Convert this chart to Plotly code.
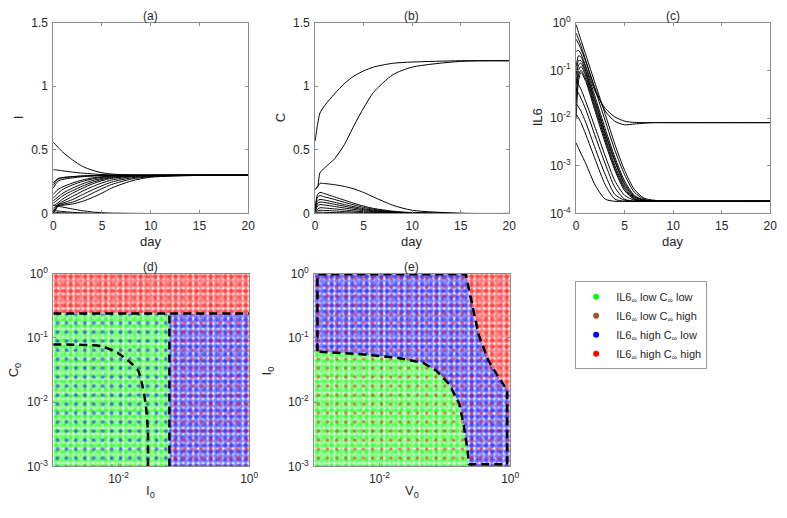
import plotly.graph_objects as go

# ---------------- data: panels (a)-(c) ----------------
t_days = [0, 0.25, 0.5, 1, 2, 3, 4, 5, 6, 8, 10, 15, 20]

I_curves = [
    [0.56, 0.54, 0.52, 0.48, 0.42, 0.37, 0.34, 0.32, 0.31, 0.302, 0.30, 0.30, 0.30],
    [0.345, 0.343, 0.34, 0.335, 0.325, 0.317, 0.311, 0.306, 0.303, 0.301, 0.30, 0.30, 0.30],
    [0.24, 0.26, 0.275, 0.283, 0.29, 0.295, 0.298, 0.299, 0.30, 0.30, 0.30, 0.30, 0.30],
    [0.22, 0.25, 0.27, 0.28, 0.289, 0.294, 0.297, 0.299, 0.30, 0.30, 0.30, 0.30, 0.30],
    [0.20, 0.23, 0.255, 0.268, 0.28, 0.289, 0.294, 0.297, 0.299, 0.30, 0.30, 0.30, 0.30],
    [0.15, 0.17, 0.19, 0.21, 0.24, 0.263, 0.279, 0.289, 0.295, 0.299, 0.30, 0.30, 0.30],
    [0.12, 0.14, 0.16, 0.19, 0.225, 0.252, 0.271, 0.284, 0.292, 0.298, 0.30, 0.30, 0.30],
    [0.10, 0.115, 0.13, 0.16, 0.20, 0.233, 0.258, 0.276, 0.288, 0.297, 0.30, 0.30, 0.30],
    [0.08, 0.095, 0.11, 0.14, 0.18, 0.215, 0.245, 0.267, 0.282, 0.295, 0.299, 0.30, 0.30],
    [0.06, 0.072, 0.085, 0.115, 0.16, 0.198, 0.232, 0.258, 0.276, 0.293, 0.298, 0.30, 0.30],
    [0.04, 0.055, 0.072, 0.095, 0.135, 0.175, 0.21, 0.24, 0.263, 0.288, 0.297, 0.30, 0.30],
    [0.02, 0.045, 0.068, 0.082, 0.11, 0.148, 0.185, 0.218, 0.247, 0.28, 0.294, 0.30, 0.30],
    [0.01, 0.035, 0.062, 0.072, 0.09, 0.12, 0.158, 0.195, 0.228, 0.27, 0.29, 0.30, 0.30],
    [0.005, 0.03, 0.058, 0.065, 0.075, 0.095, 0.125, 0.16, 0.20, 0.255, 0.285, 0.299, 0.30],
    [0.065, 0.062, 0.058, 0.05, 0.035, 0.022, 0.012, 0.006, 0.003, 0.001, 0, 0, 0],
    [0.025, 0.022, 0.019, 0.015, 0.009, 0.005, 0.002, 0.001, 0, 0, 0, 0, 0],
    [0.01, 0.009, 0.007, 0.005, 0.002, 0.001, 0, 0, 0, 0, 0, 0, 0],
]

C_curves = [
    [0.57, 0.70, 0.79, 0.85, 0.94, 1.02, 1.08, 1.12, 1.15, 1.18, 1.19, 1.20, 1.20],
    [0.19, 0.21, 0.32, 0.36, 0.43, 0.54, 0.69, 0.83, 0.95, 1.09, 1.15, 1.195, 1.20],
    [0.19, 0.21, 0.237, 0.235, 0.226, 0.213, 0.193, 0.165, 0.13, 0.065, 0.025, 0.002, 0],
    [0.05, 0.15, 0.165, 0.155, 0.13, 0.105, 0.08, 0.058, 0.04, 0.018, 0.007, 0, 0],
    [0.04, 0.13, 0.14, 0.13, 0.11, 0.088, 0.067, 0.048, 0.033, 0.014, 0.005, 0, 0],
    [0.03, 0.10, 0.11, 0.105, 0.088, 0.07, 0.053, 0.038, 0.026, 0.011, 0.004, 0, 0],
    [0.02, 0.08, 0.09, 0.086, 0.072, 0.057, 0.043, 0.03, 0.02, 0.008, 0.003, 0, 0],
    [0.015, 0.06, 0.07, 0.066, 0.055, 0.043, 0.032, 0.022, 0.015, 0.006, 0.002, 0, 0],
    [0.01, 0.035, 0.045, 0.043, 0.036, 0.028, 0.02, 0.014, 0.009, 0.003, 0.001, 0, 0],
    [0.005, 0.02, 0.025, 0.024, 0.02, 0.015, 0.011, 0.007, 0.004, 0.001, 0, 0, 0],
    [0.002, 0.008, 0.01, 0.009, 0.007, 0.005, 0.003, 0.002, 0.001, 0, 0, 0, 0],
]

t_il6 = [0, 0.25, 0.5, 1, 2, 3, 4, 5, 6, 7, 8, 10, 20]
IL6_curves = [
    [0.9, 0.62, 0.43, 0.21, 0.05, 0.012, 0.0028, 0.0008, 0.00032, 0.00021, 0.00019, 0.00018, 0.00018],
    [0.6, 0.45, 0.33, 0.16, 0.037, 0.0088, 0.0021, 0.00065, 0.00028, 0.0002, 0.00018, 0.00018, 0.00018],
    [0.45, 0.36, 0.28, 0.15, 0.04, 0.014, 0.0085, 0.0072, 0.0075, 0.0078, 0.008, 0.008, 0.008],
    [0.25, 0.26, 0.22, 0.12, 0.035, 0.016, 0.0105, 0.0086, 0.0081, 0.008, 0.008, 0.008, 0.008],
    [0.12, 0.20, 0.19, 0.11, 0.026, 0.006, 0.0015, 0.00048, 0.00024, 0.00019, 0.00018, 0.00018, 0.00018],
    [0.08, 0.16, 0.16, 0.095, 0.022, 0.005, 0.0013, 0.00043, 0.00023, 0.00019, 0.00018, 0.00018, 0.00018],
    [0.05, 0.13, 0.14, 0.085, 0.02, 0.0046, 0.0012, 0.0004, 0.00022, 0.00019, 0.00018, 0.00018, 0.00018],
    [0.03, 0.10, 0.12, 0.075, 0.017, 0.004, 0.001, 0.00036, 0.00021, 0.00018, 0.00018, 0.00018, 0.00018],
    [0.02, 0.08, 0.10, 0.065, 0.015, 0.0035, 0.00088, 0.00033, 0.0002, 0.00018, 0.00018, 0.00018, 0.00018],
    [0.01, 0.06, 0.09, 0.058, 0.013, 0.003, 0.0008, 0.0003, 0.0002, 0.00018, 0.00018, 0.00018, 0.00018],
    [0.06, 0.05, 0.04, 0.022, 0.006, 0.0016, 0.00048, 0.00024, 0.00019, 0.00018, 0.00018, 0.00018, 0.00018],
    [0.04, 0.033, 0.026, 0.015, 0.004, 0.0011, 0.00035, 0.0002, 0.00018, 0.00018, 0.00018, 0.00018, 0.00018],
    [0.02, 0.017, 0.014, 0.008, 0.0022, 0.00065, 0.00025, 0.00019, 0.00018, 0.00018, 0.00018, 0.00018, 0.00018],
    [0.012, 0.01, 0.008, 0.0045, 0.0013, 0.0004, 0.0002, 0.00018, 0.00018, 0.00018, 0.00018, 0.00018, 0.00018],
    [0.003, 0.0023, 0.0018, 0.0011, 0.00038, 0.0002, 0.00018, 0.00018, 0.00018, 0.00018, 0.00018, 0.00018, 0.00018],
]

# ---------------- data: panels (d)-(e) region boundaries ----------------
axis_lo, axis_hi = 0.001, 1.0

d_C0_split = 0.24      # C0 above which everything ends high/high
d_I0_split = 0.060     # I0 vertical boundary
d_inner_I0 = [0.001, 0.0055, 0.0099, 0.0155, 0.020, 0.0234, 0.0263, 0.0282, 0.0282]
d_inner_C0 = [0.079, 0.074, 0.0575, 0.0407, 0.0309, 0.0174, 0.0085, 0.0034, 0.001]

e_green_V0 = [0.001, 0.0046, 0.0186, 0.0468, 0.074, 0.117, 0.166, 0.195, 0.224, 0.234]
e_green_I0 = [0.0617, 0.0562, 0.049, 0.0407, 0.0309, 0.019, 0.0095, 0.0043, 0.0017, 0.001]
e_red_V0 = [0.209, 0.251, 0.331, 0.468, 0.661, 0.90]
e_red_I0 = [1.0, 0.389, 0.110, 0.0437, 0.0245, 0.0155]
e_right_V0 = 0.90

legend_names = ["IL6<sub>∞</sub> low C<sub>∞</sub> low",
                "IL6<sub>∞</sub> low C<sub>∞</sub> high",
                "IL6<sub>∞</sub> high C<sub>∞</sub> low",
                "IL6<sub>∞</sub> high C<sub>∞</sub> high"]
legend_colors = ["#00ff00", "#a0522d", "#0000ff", "#ff0000"]
GREEN, BROWN, BLUE, RED = legend_colors

# ---------------- figure ----------------
W, H = 787, 518
fig = go.Figure()

def px_x(p):
    return p / W

def px_y(p):
    return 1 - p / H

FONT = "Liberation Sans, Arial, sans-serif"
AX = "#8c8c8c"

def axis_common():
    return dict(showline=True, linecolor=AX, linewidth=1, mirror="ticks",
                ticks="inside", ticklen=3, tickcolor=AX, showgrid=False,
                zeroline=False, tickfont=dict(family=FONT, size=12, color="#262626"))

panels = {
    "a": ((51, 249), (14, 211)),
    "b": ((317, 514), (14, 211)),
    "c": ((582, 779), (14, 211)),
    "d": ((51, 250), (273, 472)),
    "e": ((316, 515), (273, 472)),
}
keys = ["a", "b", "c", "d", "e"]
layout_axes = {}
for i, k in enumerate(keys):
    (x0, x1), (y0, y1) = panels[k]
    n = "" if i == 0 else str(i + 1)
    xa = axis_common()
    ya = axis_common()
    xa.update(domain=[px_x(x0), px_x(x1)], anchor="y" + n, ticklabelstandoff=1)
    ya.update(domain=[px_y(y1), px_y(y0)], anchor="x" + n, ticklabelstandoff=2)
    layout_axes["xaxis" + n] = xa
    layout_axes["yaxis" + n] = ya

lin_x = dict(range=[0, 20], tickvals=[0, 5, 10, 15, 20])
for n in ["", "2", "3"]:
    layout_axes["xaxis" + n].update(lin_x)
lin_y = dict(range=[0, 1.5], tickvals=[0, 0.5, 1, 1.5], ticktext=["0", "0.5", "1", "1.5"])
layout_axes["yaxis"].update(lin_y)
layout_axes["yaxis2"].update(lin_y)
layout_axes["yaxis3"].update(type="log", range=[-4, 0],
                             tickvals=[1e-4, 1e-3, 1e-2, 1e-1, 1],
                             ticktext=["10<sup>-4</sup>", "10<sup>-3</sup>", "10<sup>-2</sup>",
                                       "10<sup>-1</sup>", "10<sup>0</sup>"])
for n in ["4", "5"]:
    layout_axes["xaxis" + n].update(type="log", range=[-3, 0], tickvals=[1e-2, 1],
                                    ticktext=["10<sup>-2</sup>", "10<sup>0</sup>"])
    layout_axes["yaxis" + n].update(type="log", range=[-3, 0],
                                    tickvals=[1e-3, 1e-2, 1e-1, 1],
                                    ticktext=["10<sup>-3</sup>", "10<sup>-2</sup>",
                                              "10<sup>-1</sup>", "10<sup>0</sup>"])

line_style = dict(color="black", width=1, shape="spline", smoothing=0.7)
for yv in I_curves:
    fig.add_trace(go.Scatter(x=t_days, y=yv, mode="lines", line=line_style,
                             showlegend=False, hoverinfo="skip", xaxis="x", yaxis="y"))
for yv in C_curves:
    fig.add_trace(go.Scatter(x=t_days, y=yv, mode="lines", line=line_style,
                             showlegend=False, hoverinfo="skip", xaxis="x2", yaxis="y2"))
for yv in IL6_curves:
    fig.add_trace(go.Scatter(x=t_il6, y=yv, mode="lines", line=line_style,
                             showlegend=False, hoverinfo="skip", xaxis="x3", yaxis="y3"))

T = "rgba(0,0,0,0)"

def region(xs, ys, color, xa, ya, size, solid, bg=T):
    fig.add_trace(go.Scatter(
        x=xs, y=ys, mode="lines", fill="toself", line=dict(width=0),
        fillcolor=T,
        fillpattern=dict(shape=".", fgcolor=color, bgcolor=bg, size=size, solidity=solid),
        showlegend=False, hoverinfo="skip", xaxis=xa, yaxis=ya))

def dotted(xs, ys, main, other, xa, ya, other_solid):
    # main colour dots on white, two interleaved grids, plus sparse second colour
    region(xs, ys, main, xa, ya, 5, 0.72, "white")
    region(xs, ys, main, xa, ya, 7, 0.35)
    if other:
        region(xs, ys, other, xa, ya, 9, other_solid)

lo, hi = axis_lo, axis_hi
# ---- panel (d)
top_x = [lo, hi, hi, lo]
top_y = [d_C0_split, d_C0_split, hi, hi]
left_x = [lo, d_I0_split, d_I0_split, lo]
left_y = [lo, lo, d_C0_split, d_C0_split]
right_x = [d_I0_split, hi, hi, d_I0_split]
right_y = [lo, lo, d_C0_split, d_C0_split]
dotted(top_x, top_y, RED, None, "x4", "y4", 0)
dotted(left_x, left_y, GREEN, BLUE, "x4", "y4", 0.16)
dotted(right_x, right_y, BLUE, RED, "x4", "y4", 0.14)

dash = dict(color="black", width=2.5, dash="8px,5px")
fig.add_trace(go.Scatter(x=[lo, hi], y=[d_C0_split, d_C0_split], mode="lines", line=dash,
                         showlegend=False, hoverinfo="skip", xaxis="x4", yaxis="y4"))
fig.add_trace(go.Scatter(x=[d_I0_split, d_I0_split], y=[lo, d_C0_split], mode="lines", line=dash,
                         showlegend=False, hoverinfo="skip", xaxis="x4", yaxis="y4"))
fig.add_trace(go.Scatter(x=d_inner_I0, y=d_inner_C0, mode="lines",
                         line=dict(dash, shape="spline", smoothing=0.6),
                         showlegend=False, hoverinfo="skip", xaxis="x4", yaxis="y4"))

# ---- panel (e)
red_x = e_red_V0 + [hi, hi]
red_y = e_red_I0 + [e_red_I0[-1], hi]
green_x = [lo] + e_green_V0
green_y = [lo] + e_green_I0
blue_x = [lo] + e_red_V0 + [hi, hi] + e_green_V0[::-1]
blue_y = [hi] + e_red_I0 + [e_red_I0[-1], lo] + e_green_I0[::-1]
dotted(red_x, red_y, RED, None, "x5", "y5", 0)
dotted(green_x, green_y, GREEN, RED, "x5", "y5", 0.12)
dotted(blue_x, blue_y, BLUE, RED, "x5", "y5", 0.14)

edge_lo, edge_hi = 0.00112, 0.975
outline_x = [edge_lo, edge_lo] + e_red_V0 + [e_right_V0, e_right_V0] + e_green_V0[::-1]
outline_y = [e_green_I0[0], edge_hi] + [edge_hi] + e_red_I0[1:] + [e_red_I0[-1], 0.00108] + \
            [0.00108] + e_green_I0[::-1][1:]
fig.add_trace(go.Scatter(x=outline_x, y=outline_y, mode="lines",
                         line=dict(color="black", width=2.5, dash="8px,5px"),
                         showlegend=False, hoverinfo="skip", xaxis="x5", yaxis="y5"))

# ---- legend entries
for name, col in zip(legend_names, legend_colors):
    fig.add_trace(go.Scatter(x=[None], y=[None], mode="markers", name=name,
                             marker=dict(color=col, size=6), xaxis="x5", yaxis="y5"))

# ---- annotations
ann = []
def text(x, y, s, size=13, angle=0):
    ann.append(dict(x=px_x(x), y=px_y(y), xref="paper", yref="paper", text=s,
                    showarrow=False, textangle=angle, xanchor="center", yanchor="middle",
                    font=dict(family=FONT, size=size, color="#262626")))

text(150, 7, "(a)", 12)
text(415, 7, "(b)", 12)
text(680, 7, "(c)", 12)
text(150, 266, "(d)", 12)
text(415, 266, "(e)", 12)
for cx in (150, 415, 680):
    text(cx, 240, "day")
text(16, 112, "I", 13, -90)
text(282, 112, "C", 13, -90)
text(543, 112, "IL6", 13, -90)
text(12, 373, "C<sub>0</sub>", 13, -90)
text(269, 373, "I<sub>0</sub>", 13, -90)
text(150, 498, "I<sub>0</sub>")
text(415, 498, "V<sub>0</sub>")

fig.update_layout(
    width=W, height=H, margin=dict(l=0, r=0, t=0, b=0),
    paper_bgcolor="white", plot_bgcolor="white",
    annotations=ann,
    legend=dict(x=px_x(581), y=px_y(281), xanchor="left", yanchor="top",
                bordercolor="#9a9a9a", borderwidth=1, bgcolor="white",
                font=dict(family=FONT, size=11, color="#262626"),
                itemwidth=30, tracegroupgap=0),
    **layout_axes,
)

fig.write_html("out.html")
